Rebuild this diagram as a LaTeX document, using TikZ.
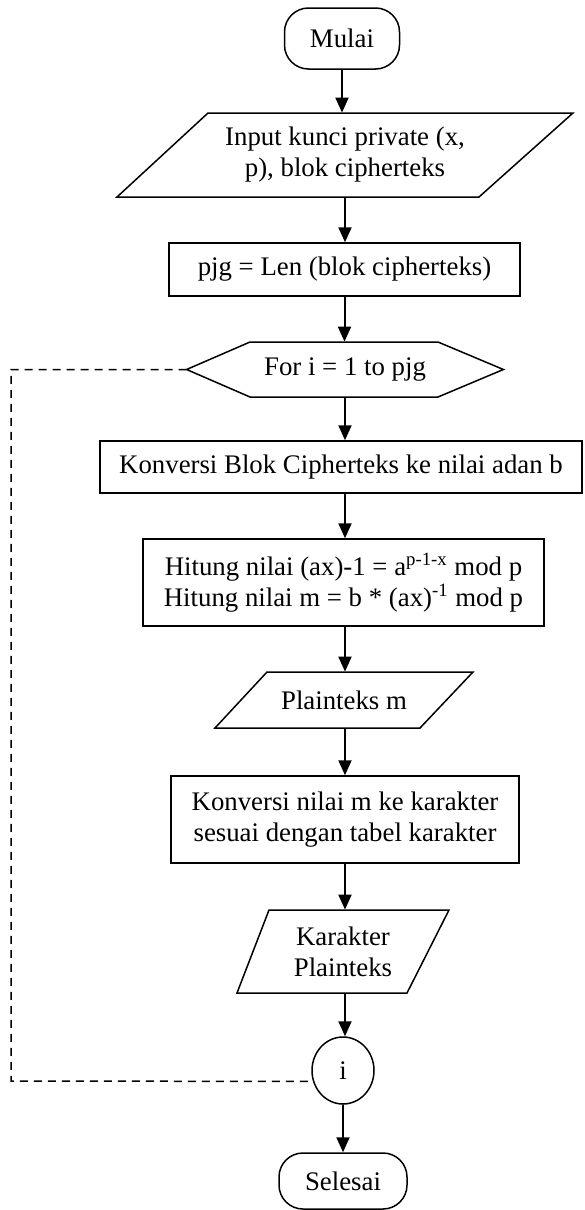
\documentclass[tikz,border=0pt]{standalone}
\usepackage{fontspec}
\setmainfont{Liberation Serif}
\usetikzlibrary{arrows.meta,shapes.geometric}
\begin{document}
\begin{tikzpicture}[x=0.5pt,y=-0.5pt,
  txt/.style={inner sep=0pt,align=center,font=\fontsize{13.4}{15.5}\selectfont},
  procbox/.style={txt,draw,line width=0.75pt,rectangle},
  termbox/.style={txt,draw,line width=0.75pt,rectangle,rounded corners=12pt},
  iobox/.style={txt,rectangle},
  outline/.style={line width=0.75pt,line join=miter},
  flow/.style={line width=1pt,-{Triangle[width=6.5pt,length=7.5pt]}},
  loopline/.style={line width=0.75pt,dash pattern=on 4pt off 3pt}
]
\useasboundingbox (0,0) rectangle (584,1210);

% nodes
\node[termbox,minimum width=57.5pt,minimum height=30.5pt] (start) at (342,38.5) {Mulai};
\node[iobox,minimum width=228pt,minimum height=42pt] (input) at (345,155) {Input kunci private (x,\\p), blok cipherteks};
\node[procbox,minimum width=175.5pt,minimum height=26.5pt] (len) at (344.5,269.5) {pjg = Len (blok cipherteks)};
\node[txt,minimum width=158pt,minimum height=27.5pt] (loop) at (345,369.5) {For i = 1 to pjg};
\node[procbox,minimum width=241pt,minimum height=26pt] (conv) at (341,467) {Konversi Blok Cipherteks ke nilai adan b};
\node[procbox,minimum width=200.5pt,minimum height=43.5pt] (calc) at (343.5,582.5) {Hitung nilai (ax)-1 = a\textsuperscript{p-1-x} mod p\\Hitung nilai m = b * (ax)\textsuperscript{-1} mod p};
\node[iobox,minimum width=129pt,minimum height=28pt] (plain) at (344,700) {Plainteks m};
\node[procbox,minimum width=174pt,minimum height=43.5pt] (tochar) at (345,819.5) {Konversi nilai m ke karakter\\sesuai dengan tabel karakter};
\node[iobox,minimum width=106pt,minimum height=41.5pt] (chars) at (343,951.5) {Karakter\\Plainteks};
\node[txt,draw,line width=0.75pt,ellipse,minimum width=31pt,minimum height=33.5pt] (i) at (343,1070.5) {i};
\node[termbox,minimum width=64pt,minimum height=28pt] (stop) at (343,1181) {Selesai};

% outlines of parallelograms and hexagon
\draw[outline] (117,197) -- (479,197) -- (573,113) -- (208,113) -- cycle;
\draw[outline] (loop.west) -- (250,342) -- (438,342) -- (loop.east) -- (438,397) -- (250,397) -- cycle;
\draw[outline] (215,728) -- (420,728) -- (473,672) -- (267,672) -- cycle;
\draw[outline] (237,993) -- (407,993) -- (449,910) -- (269,910) -- cycle;

% connectors
\draw[flow] (start.south) -- (start.south |- input.north);
\draw[flow] (input.south) -- (input.south |- len.north);
\draw[flow] (len.south) -- (len.south |- loop.north);
\draw[flow] (loop.south) -- (loop.south |- conv.north);
\draw[flow] (conv.south -| loop.south) coordinate (c0) -- (c0 |- calc.north);
\draw[flow] (calc.south -| loop.south) coordinate (c1) -- (c1 |- plain.north);
\draw[flow] (plain.south -| loop.south) coordinate (c2) -- (c2 |- tochar.north);
\draw[flow] (tochar.south) -- (tochar.south |- chars.north);
\draw[flow] (chars.south -| tochar.south) coordinate (c3) -- (c3 |- i.north);
\draw[flow] (i.south) -- (i.south |- stop.north);

% loop back (dashed)
\coordinate (ul) at (11,369.5);
\coordinate (ll) at (11,1081);
\draw[loopline] (loop.west) -- (ul) -- (ll) -- (i.200);
\end{tikzpicture}
\end{document}
